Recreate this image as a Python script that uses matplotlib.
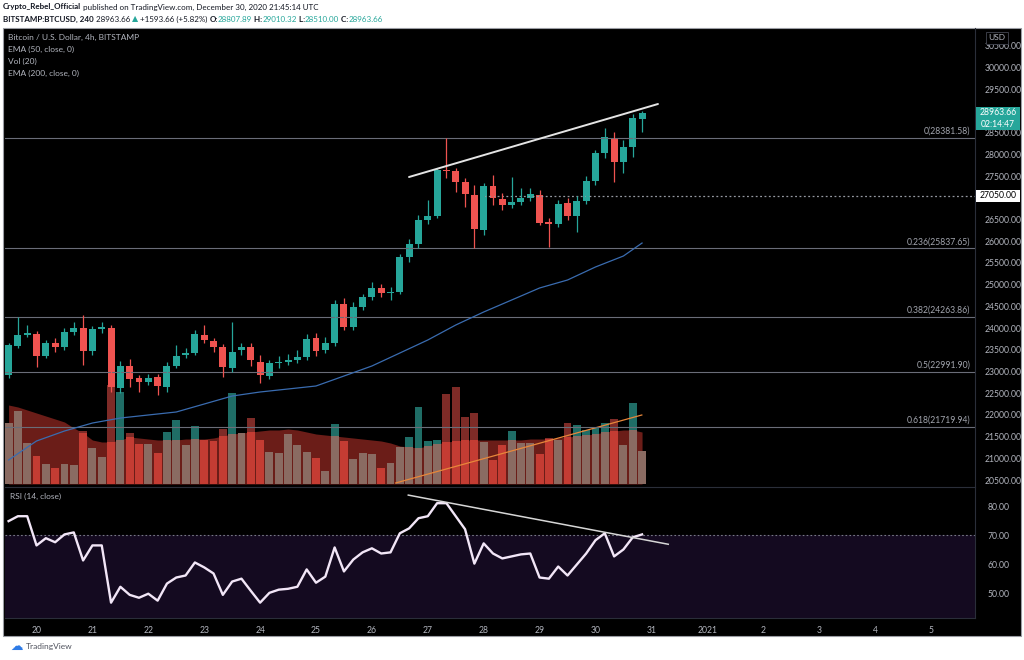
import numpy as np
import matplotlib
matplotlib.use('Agg')
import matplotlib.pyplot as plt
from matplotlib.patches import Rectangle

plt.rcParams['font.family'] = ['Lato', 'DejaVu Sans']

# ---- data (BTCUSD, Bitstamp, 4h) ----
candle_start = 19.5      # Dec 19, 12:00 (x axis in days of December)
candle_step = 1 / 6      # one 4h candle

opens = [22919, 23587, 23841, 23864, 23357, 23656, 23564, 23910, 24002, 23472,
         23979, 24002, 22620, 23127, 22850, 22758, 22873, 22643, 23127, 23380,
         23426, 23841, 23703, 23564, 23080, 23495, 23564, 23219, 22896, 23196,
         23219, 23265, 23334, 23772, 23495, 23656, 24555, 24025, 24486, 24716,
         24924, 24808, 24831, 25638, 25937, 26490, 26583, 27642, 27619, 27366,
         27066, 26260, 27274, 26974, 26836, 26905, 26997, 27066, 26444, 26398,
         26882, 26583, 26928, 27389, 28034, 28380, 27827, 28172, 28807.89]
highs = [23656, 24256, 24071, 23933, 23726, 23772, 24002, 24140, 24302, 24048,
         24140, 24071, 23242, 23288, 22919, 22942, 22942, 23219, 23610, 23541,
         23956, 24071, 23772, 23633, 24140, 23656, 23656, 23380, 23265, 23357,
         23403, 23495, 23864, 23887, 23795, 24647, 24694, 24601, 24785, 25062,
         25016, 24947, 25707, 26053, 26606, 26951, 27688, 28381.58, 27688, 27458,
         27296, 27343, 27527, 27112, 27481, 27227, 27227, 27181, 26537, 26951,
         26997, 27043, 27504, 28103, 28610, 28518, 28334, 28932, 29010.32]
lows = [22850, 23541, 23795, 23104, 23311, 23449, 23495, 23841, 23150, 23380,
        23887, 22528, 22505, 22643, 22528, 22689, 22458, 22528, 23080, 23311,
        23380, 23656, 23449, 22873, 22988, 23380, 23127, 22735, 22827, 23080,
        23150, 23196, 23265, 23357, 23426, 23587, 23956, 23956, 24417, 24647,
        24716, 24647, 24785, 25523, 25845, 26398, 26537, 27458, 27135, 26790,
        25838, 26145, 26836, 26721, 26767, 26836, 26928, 26375, 25868, 26329,
        26490, 26214, 26859, 27296, 27918, 27366, 27573, 27942, 28510.00]
closes = [23610, 23841, 23887, 23357, 23656, 23564, 23910, 24002, 23472, 23979,
          24025, 22643, 23127, 22827, 22758, 22850, 22666, 23127, 23357, 23426,
          23864, 23726, 23564, 23104, 23449, 23564, 23265, 22919, 23196, 23219,
          23265, 23334, 23749, 23472, 23656, 24555, 24025, 24486, 24716, 24924,
          24808, 24831, 25638, 25937, 26490, 26583, 27642, 27619, 27366, 27089,
          26283, 27274, 26997, 26836, 26905, 26997, 27089, 26421, 26398, 26859,
          26583, 26928, 27389, 28034, 28403, 27827, 28172, 28840, 28963.66]

volumes = [610, 730, 410, 280, 200, 160, 200, 190, 530, 360,
           270, 990, 920, 510, 400, 400, 310, 520, 640, 390,
           580, 440, 430, 550, 910, 510, 660, 440, 320, 310,
           500, 390, 320, 260, 130, 600, 430, 250, 310, 300,
           160, 210, 370, 470, 770, 430, 440, 900, 970, 670,
           710, 420, 240, 390, 530, 410, 410, 300, 460, 440,
           610, 590, 540, 570, 610, 650, 390, 810, 330]
vol_ma = [790, 770, 740, 710, 680, 650, 620, 560, 510, 440,
          420, 420, 440, 470, 460, 450, 440, 440, 440, 450,
          450, 450, 460, 480, 500, 510, 520, 530, 540, 540,
          550, 540, 520, 500, 490, 480, 470, 460, 450, 440,
          430, 410, 380, 370, 360, 380, 400, 420, 430, 440,
          440, 440, 440, 440, 440, 440, 450, 450, 450, 460,
          470, 480, 490, 500, 520, 530, 540, 540, 520]

rsi = [74.9, 76.6, 76.6, 66.5, 69.0, 67.6, 70.3, 71.0, 61.3, 66.5,
       66.5, 46.7, 52.2, 49.4, 48.4, 49.8, 47.4, 53.3, 55.4, 56.1,
       60.6, 58.9, 56.8, 49.4, 54.0, 55.0, 50.8, 46.7, 50.1, 51.2,
       51.5, 52.2, 58.2, 53.6, 55.7, 65.8, 57.5, 61.6, 64.1, 65.5,
       63.7, 64.1, 70.7, 72.4, 75.9, 76.6, 81.1, 81.1, 76.6, 72.1,
       60.2, 67.2, 63.7, 62.0, 62.7, 63.4, 63.7, 55.4, 55.0, 59.2,
       56.1, 59.9, 63.7, 68.3, 70.7, 62.7, 65.1, 69.3, 70.3]

# EMA 50 read at every third candle
ema_idx = [0, 3, 6, 9, 12, 15, 18, 21, 24, 27, 30, 33, 36, 39, 42, 45, 48, 51, 54, 57, 60, 63, 66, 68]
ema_vals = [20961, 21399, 21629, 21813, 21928, 21998, 22067, 22251, 22435, 22528, 22597, 22666,
            22896, 23127, 23426, 23726, 24071, 24371, 24647, 24924, 25108, 25408, 25661, 25960]

fib_names = ['0', '0.236', '0.382', '0.5', '0.618']
fib_prices = [28381.58, 25837.65, 24263.86, 22991.90, 21719.94]

price_trend_t = [26.664, 31.118]
price_trend_p = [27481, 29163]
rsi_trend_t = [26.651, 31.302]
rsi_trend_v = [83.9, 66.9]
vol_trend_t = [26.424, 30.829]
vol_trend_v = [10, 690]

ray_start, ray_level = 28.0, 27050.0

price_ticks = [20500, 21000, 21500, 22000, 22500, 23000, 23500, 24000, 24500, 25000,
               25500, 26000, 26500, 27500, 28000, 28500, 29500, 30000, 30500]
rsi_ticks = [50, 60, 70, 80]
day_ticks = [20, 21, 22, 23, 24, 25, 26, 27, 28, 29, 30, 31, 32, 33, 34, 35, 36]
day_labels = ['20', '21', '22', '23', '24', '25', '26', '27', '28', '29', '30', '31',
              '2021', '2', '3', '4', '5']

# ---- styling ----
TEAL = '#26a69a'
RED = '#ef5350'
GREY = '#b2b5be'
LINE = '#2a2e39'
W, H = 1024, 660


def fx(px):
    return px / W


def fy(py):
    return 1 - py / H


opens, highs, lows, closes = map(np.array, (opens, highs, lows, closes))
volumes, vol_ma = np.array(volumes, float), np.array(vol_ma, float)
times = candle_start + candle_step * np.arange(len(opens))
up = closes >= opens
colors = np.where(up, TEAL, RED)

fig = plt.figure(figsize=(W / 100, H / 100), dpi=100, facecolor='white')
fig.add_artist(Rectangle((fx(3), fy(636)), fx(1021) - fx(3), fy(28) - fy(636),
                         transform=fig.transFigure, facecolor='black',
                         edgecolor='#9a9ca3', lw=0.8, zorder=0))

L, R = 5, 975
ax_vol = fig.add_axes([fx(L), fy(484), fx(R) - fx(L), fy(28) - fy(484)])
ax = fig.add_axes([fx(L), fy(487), fx(R) - fx(L), fy(28) - fy(487)], sharex=ax_vol)
ax_rsi = fig.add_axes([fx(L), fy(618), fx(R) - fx(L), fy(487) - fy(618)], sharex=ax_vol)
xmin, xmax = 19.436, 36.79
ax_vol.set_xlim(xmin, xmax)

# ---- volume pane ----
ax_vol.set_facecolor('none')
ax_vol.set_ylim(0, 4560)
ax_vol.fill_between(times, 0, vol_ma, color='#6b1d18', lw=0)
inside = np.minimum(volumes, vol_ma)
above = np.clip(volumes - vol_ma, 0, None)
ax_vol.bar(times, inside, width=0.142, color=np.where(up, '#8a6b62', '#c43c33'), lw=0)
ax_vol.bar(times, above, bottom=vol_ma, width=0.142,
           color=np.where(up, '#1f6d66', '#7e2b27'), lw=0)
ax_vol.plot(vol_trend_t, vol_trend_v, color='#e8873a', lw=0.9)
ax_vol.axis('off')

# ---- price pane ----
ax.set_facecolor('none')
ax.set_ylim(20339, 30914)
for name, level in zip(fib_names, fib_prices):
    ax.axhline(level, color='#6a6d78', lw=0.8)
    ax.annotate(f'{name}({level:.2f})', xy=(0.995, level), xycoords=('axes fraction', 'data'),
                xytext=(0, 1.5), textcoords='offset points', ha='right', va='bottom',
                fontsize=6.2, color='#a3a6af')
ax.hlines(ray_level, ray_start, xmax, color='#9598a1', lw=0.9, linestyles=(0, (1.5, 2)))
ax.vlines(times, lows, highs, colors=colors, lw=0.9)
ax.bar(times, np.maximum(np.abs(closes - opens), 30), bottom=np.minimum(opens, closes),
       width=0.125, color=colors, lw=0)
ax.plot(times[ema_idx], ema_vals, color='#3a6cb0', lw=0.9)
ax.plot(price_trend_t, price_trend_p, color='#e4e4e4', lw=1.4, solid_capstyle='round')

ax.yaxis.tick_right()
ax.set_yticks(price_ticks)
ax.set_yticklabels([f'{v:.2f}' for v in price_ticks])
ax.tick_params(axis='y', length=0, pad=7, labelsize=6.2, labelcolor=GREY)
ax.tick_params(axis='x', length=0, labelbottom=False)
for side in ('top', 'left', 'bottom'):
    ax.spines[side].set_visible(False)
ax.spines['right'].set_color(LINE)

# legend block
legend_lines = ['Bitcoin / U.S. Dollar, 4h, BITSTAMP', 'EMA (50, close, 0)', 'Vol (20)',
                'EMA (200, close, 0)']
for k, txt in enumerate(legend_lines):
    fig.text(fx(8), fy(37 + 12 * k), txt, fontsize=6, color=GREY, va='center')


# price scale labels
def scale_box(y_disp, text, face, fg, h=12):
    fig.add_artist(Rectangle((fx(976), (y_disp - h / 2) / H), fx(1020) - fx(976), h / H,
                             transform=fig.transFigure, facecolor=face, lw=0, zorder=5))
    fig.text(fx(998), y_disp / H, text, ha='center', va='center', fontsize=6.2,
             color=fg, zorder=6)


y_last = ax.transData.transform((times[-1], closes[-1]))[1]
scale_box(y_last, f'{closes[-1]:.2f}', TEAL, 'white')
scale_box(y_last - 12, '02:14:47', TEAL, 'white', h=11)
scale_box(ax.transData.transform((times[-1], ray_level))[1], f'{ray_level:.2f}', 'white', 'black')
fig.text(fx(997), fy(38), 'USD', ha='center', va='center', fontsize=6, color=GREY, zorder=6,
         bbox=dict(boxstyle='square,pad=0.35', facecolor='black', edgecolor='#434651', lw=0.6))

# ---- RSI pane ----
ax_rsi.set_facecolor('none')
ax_rsi.set_ylim(41.4, 86.7)
ax_rsi.axhspan(30, 70, color='#140a20', lw=0)
ax_rsi.axhline(70, color='#787b86', lw=0.8, linestyle=(0, (1.5, 2)))
ax_rsi.plot(times, rsi, color='#f2e6f7', lw=1.7)
ax_rsi.plot(rsi_trend_t, rsi_trend_v, color='#d6d6d6', lw=1.1)
ax_rsi.text(0.005, 0.93, 'RSI (14, close)', transform=ax_rsi.transAxes, fontsize=6,
            color=GREY, va='center')
ax_rsi.yaxis.tick_right()
ax_rsi.set_yticks(rsi_ticks)
ax_rsi.set_yticklabels([f'{v:.2f}' for v in rsi_ticks])
ax_rsi.tick_params(axis='y', length=0, pad=9, labelsize=6.2, labelcolor=GREY)
ax_rsi.set_xticks(day_ticks)
ax_rsi.set_xticklabels(day_labels)
ax_rsi.tick_params(axis='x', length=0, pad=6, labelsize=6.2, labelcolor=GREY)
ax_rsi.spines['left'].set_visible(False)
for side in ('top', 'right', 'bottom'):
    ax_rsi.spines[side].set_color(LINE)
ax_rsi.set_xlim(xmin, xmax)

# ---- header ----
renderer = fig.canvas.get_renderer()


def text_runs(x, y, runs):
    for txt, color, weight in runs:
        t = fig.text(x, y, txt, color=color, fontweight=weight, fontsize=5.8, va='center')
        x = t.get_window_extent(renderer=renderer).x1 / W


DARK = '#131722'
text_runs(fx(3), fy(7), [('Crypto_Rebel_Official', DARK, 'bold'),
                         (' published on TradingView.com, December 30, 2020 21:45:14 UTC', DARK, 'normal')])
text_runs(fx(3), fy(19), [('BITSTAMP:BTCUSD, 240', DARK, 'bold'), (' 28963.66 ', DARK, 'normal'),
                          ('\u25b2', TEAL, 'normal'), (' +1593.66 (+5.82%) ', DARK, 'normal'),
                          ('O:', DARK, 'bold'), ('28807.89', TEAL, 'normal'),
                          (' H:', DARK, 'bold'), ('29010.32', TEAL, 'normal'),
                          (' L:', DARK, 'bold'), ('28510.00', TEAL, 'normal'),
                          (' C:', DARK, 'bold'), ('28963.66', TEAL, 'normal')])

# footer logo
fig.text(fx(10), fy(646), '\u2601', color='#2e7be6', fontsize=9, va='center', family='DejaVu Sans')
fig.text(fx(26), fy(646), 'TradingView', color='#50535e', fontsize=6, va='center')

fig.savefig('out.png', dpi=100, facecolor='white')
